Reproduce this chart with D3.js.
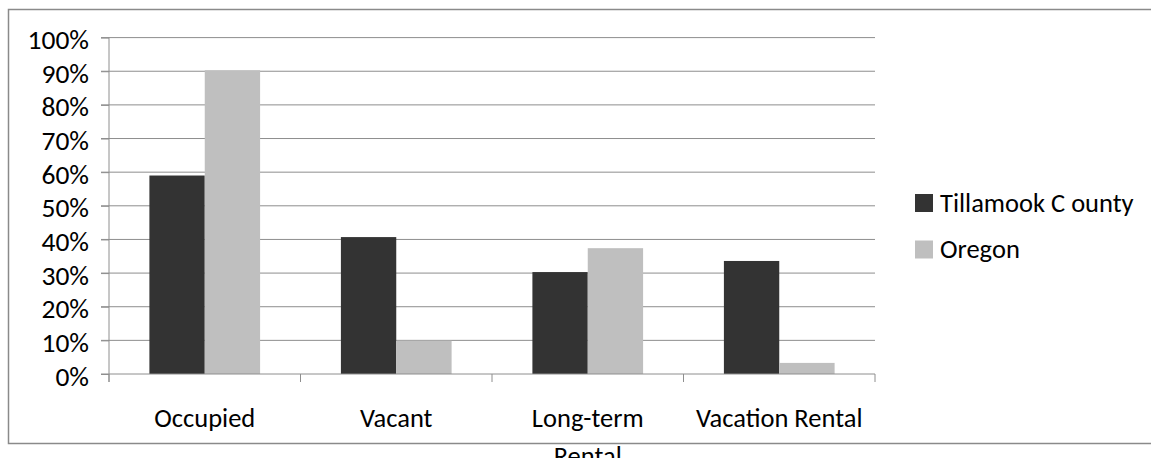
<!DOCTYPE html>
<html>
<head>
<meta charset="utf-8">
<script src="https://cdn.jsdelivr.net/npm/d3@7"></script>
<style>
  html, body { margin: 0; padding: 0; background: #fff; overflow: hidden; }
  svg { display: block; }
  text { font-family: Carlito, Lato, "Open Sans", sans-serif; fill: #000; }
</style>
</head>
<body>
<svg id="chart" width="1151" height="458"></svg>
<script>
const categories = ["Occupied", "Vacant", "Long-term Rental", "Vacation Rental"];
const seriesNames = ["Tillamook C ounty", "Oregon"];
const tillamook = [0.59, 0.407, 0.303, 0.336];
const oregon = [0.903, 0.099, 0.374, 0.033];
const yTicks = [0, 0.1, 0.2, 0.3, 0.4, 0.5, 0.6, 0.7, 0.8, 0.9, 1.0];
const colors = ["#333333", "#bfbfbf"];

const svg = d3.select("#chart");
const fontSize = 26.5;
const yFontSize = 27.5;

// chart border
svg.append("rect")
  .attr("x", 8.5).attr("y", 9.5)
  .attr("width", 1200).attr("height", 434)
  .attr("fill", "none").attr("stroke", "#8a8a8a").attr("stroke-width", 1.5);

const plot = { left: 109, right: 875, top: 37.6, bottom: 374 };

const y = d3.scaleLinear().domain([0, 1]).range([plot.bottom, plot.top]);
const x0 = d3.scaleBand().domain(categories).range([plot.left, plot.right]).paddingInner(0).paddingOuter(0);
const x1 = d3.scaleBand().domain(seriesNames).range([0, x0.bandwidth()]).paddingInner(0).paddingOuter(0.73);

// gridlines
const grid = svg.append("g");
grid.selectAll("line").data(yTicks.filter(d => d > 0)).join("line")
  .attr("x1", plot.left - 8).attr("x2", plot.right)
  .attr("y1", d => y(d)).attr("y2", d => y(d))
  .attr("stroke", "#8e8e8e").attr("stroke-width", 1);

// y axis
const yAxis = d3.axisLeft(y).tickValues(yTicks).tickFormat(d3.format(".0%")).tickSize(8).tickPadding(12);
const gy = svg.append("g").attr("transform", `translate(${plot.left},0)`).call(yAxis);
gy.select(".domain").attr("stroke", "#8e8e8e").attr("d", `M0,${plot.bottom + 8}V${plot.top}`);
gy.selectAll(".tick line").attr("stroke", "#8e8e8e");
gy.selectAll(".tick text").attr("font-size", yFontSize).attr("font-family", null).attr("dy", "0.4em").attr("fill", "#000");

// bars
const groups = svg.append("g").selectAll("g").data(categories).join("g")
  .attr("transform", d => `translate(${x0(d)},0)`);
groups.selectAll("rect").data((d, i) => [
    { s: seriesNames[0], v: tillamook[i] },
    { s: seriesNames[1], v: oregon[i] }
  ]).join("rect")
  .attr("x", d => x1(d.s)).attr("width", x1.bandwidth())
  .attr("y", d => y(d.v)).attr("height", d => y(0) - y(d.v))
  .attr("fill", (d, i) => colors[i]);

// x axis
const xAxis = d3.axisBottom(x0).tickSize(0).tickFormat("");
const gx = svg.append("g").attr("transform", `translate(0,${plot.bottom})`).call(xAxis);
gx.select(".domain").attr("stroke", "#8e8e8e").attr("d", `M${plot.left - 8},0H${plot.right}`);
const bounds = categories.map(c => x0(c)).concat([plot.right]);
gx.selectAll(".bt").data(bounds).join("line").attr("class", "bt")
  .attr("x1", d => d).attr("x2", d => d).attr("y1", 0).attr("y2", 8)
  .attr("stroke", "#8e8e8e");

// category labels (Long-term Rental wraps onto two lines)
const labelLines = { "Long-term Rental": ["Long-term", "Rental"] };
const lbl = svg.append("g").selectAll("text").data(categories).join("text")
  .attr("x", d => x0(d) + x0.bandwidth() / 2)
  .attr("y", 426.5)
  .attr("text-anchor", "middle")
  .attr("font-size", fontSize);
lbl.each(function(d) {
  const lines = labelLines[d] || [d];
  const t = d3.select(this);
  lines.forEach((l, i) => {
    t.append("tspan").attr("x", x0(d) + x0.bandwidth() / 2).attr("dy", i === 0 ? 0 : 38).text(l);
  });
});

// legend
const legend = svg.append("g").selectAll("g").data(seriesNames).join("g")
  .attr("transform", (d, i) => `translate(915,${194 + i * 46.5})`);
legend.append("rect").attr("width", 18).attr("height", 18).attr("fill", (d, i) => colors[i]);
legend.append("text").attr("x", 25).attr("y", 17.8).attr("font-size", fontSize).text(d => d);
</script>
</body>
</html>
